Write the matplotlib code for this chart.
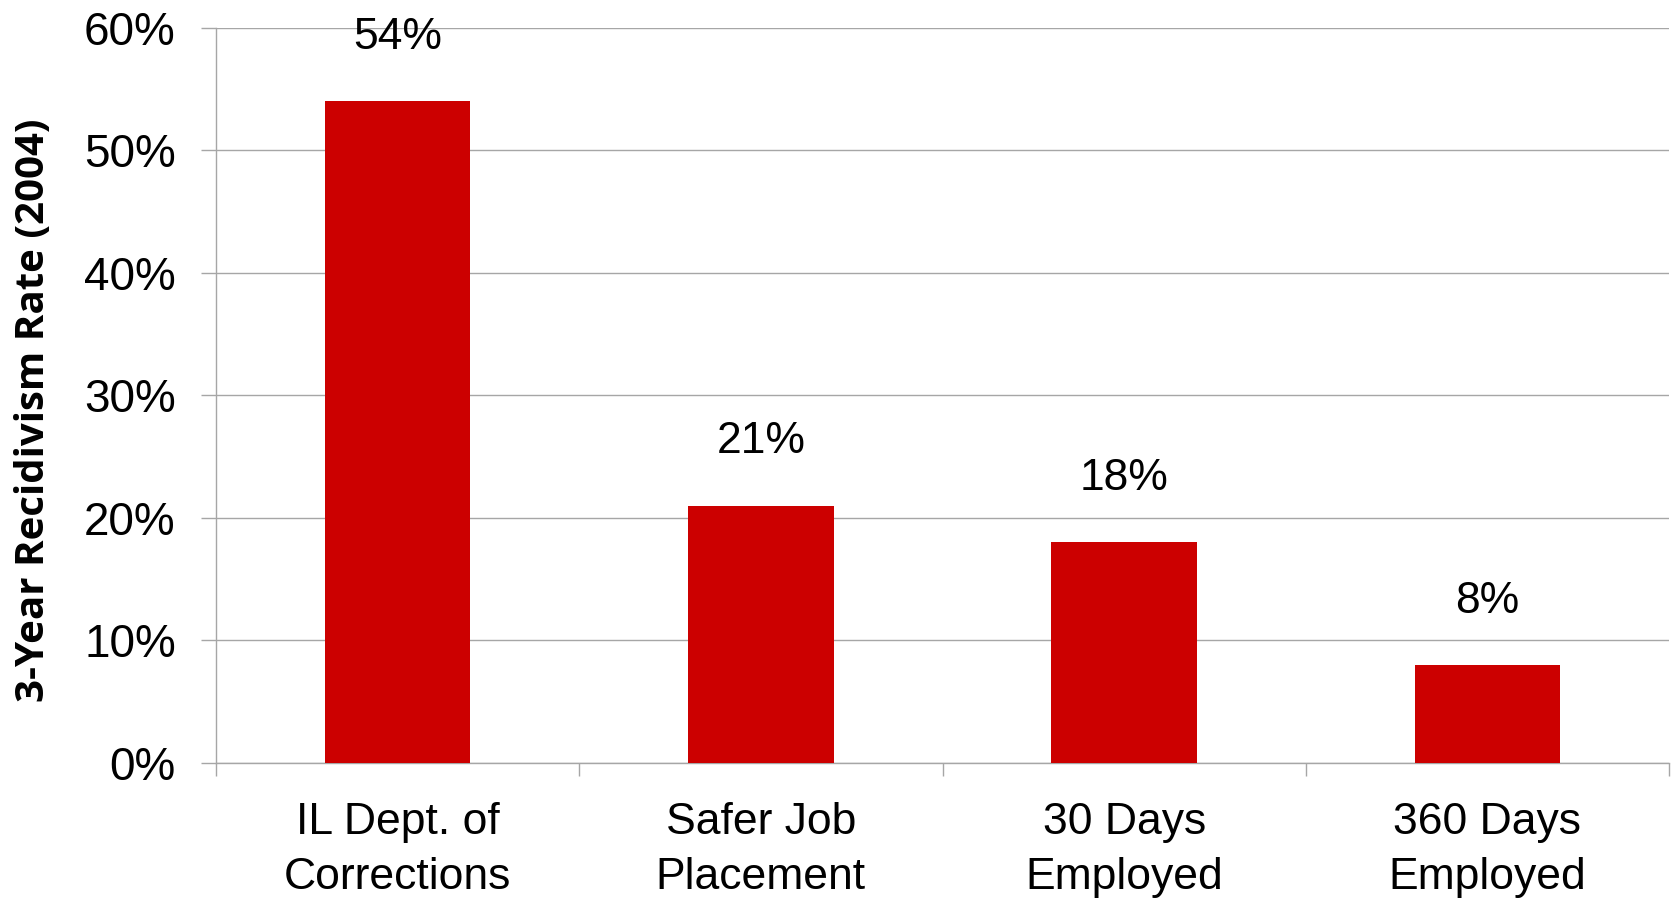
import matplotlib.pyplot as plt
from matplotlib.ticker import FuncFormatter, FixedLocator

# --- Data ---
categories = ["IL Dept. of\nCorrections", "Safer Job\nPlacement", "30 Days\nEmployed", "360 Days\nEmployed"]
rates = [54, 21, 18, 8]
y_ticks = [0, 10, 20, 30, 40, 50, 60]

BAR_COLOR = "#CC0000"
GRID_COLOR = "#A6A6A6"
TEXT_FONT = ["Liberation Sans", "DejaVu Sans"]

fig = plt.figure(figsize=(16.71, 8.98), dpi=100)
ax = fig.add_axes([0.1293, 0.1503, 0.8695, 0.8189])

x = list(range(len(categories)))
bars = ax.bar(x, rates, width=0.4, color=BAR_COLOR, zorder=3)

# value labels above bars
for xi, v in zip(x, rates):
    ax.annotate(f"{v}%", (xi, v), xytext=(0, 46), textcoords="offset points",
                ha="center", va="center", fontsize=32, family=TEXT_FONT)

ax.set_xlim(-0.5, len(categories) - 0.5)
ax.set_ylim(0, 60)

ax.set_yticks(y_ticks)
ax.yaxis.set_major_formatter(FuncFormatter(lambda v, p: f"{v:.0f}%"))
ax.tick_params(axis="y", length=11, width=1, color=GRID_COLOR, pad=18, labelsize=33)
for lbl in ax.get_yticklabels():
    lbl.set_family(TEXT_FONT)

ax.set_xticks(x)
ax.set_xticklabels(categories, fontsize=32, family=TEXT_FONT, linespacing=1.45)
ax.tick_params(axis="x", which="major", length=0, pad=28)
ax.xaxis.set_minor_locator(FixedLocator([i - 0.5 for i in range(len(categories) + 1)]))
ax.tick_params(axis="x", which="minor", length=9, width=1, color=GRID_COLOR)

ax.grid(axis="y", color=GRID_COLOR, linewidth=1, zorder=0)
for side in ["top", "right"]:
    ax.spines[side].set_visible(False)
for side in ["left", "bottom"]:
    ax.spines[side].set_color(GRID_COLOR)
    ax.spines[side].set_linewidth(1)

fig.text(0.02, 0.543, "3-Year Recidivism Rate (2004)", rotation=90, ha="center", va="center",
         fontsize=29, fontweight="bold", family=["Open Sans", "DejaVu Sans"])

plt.savefig("out.png", dpi=100)
